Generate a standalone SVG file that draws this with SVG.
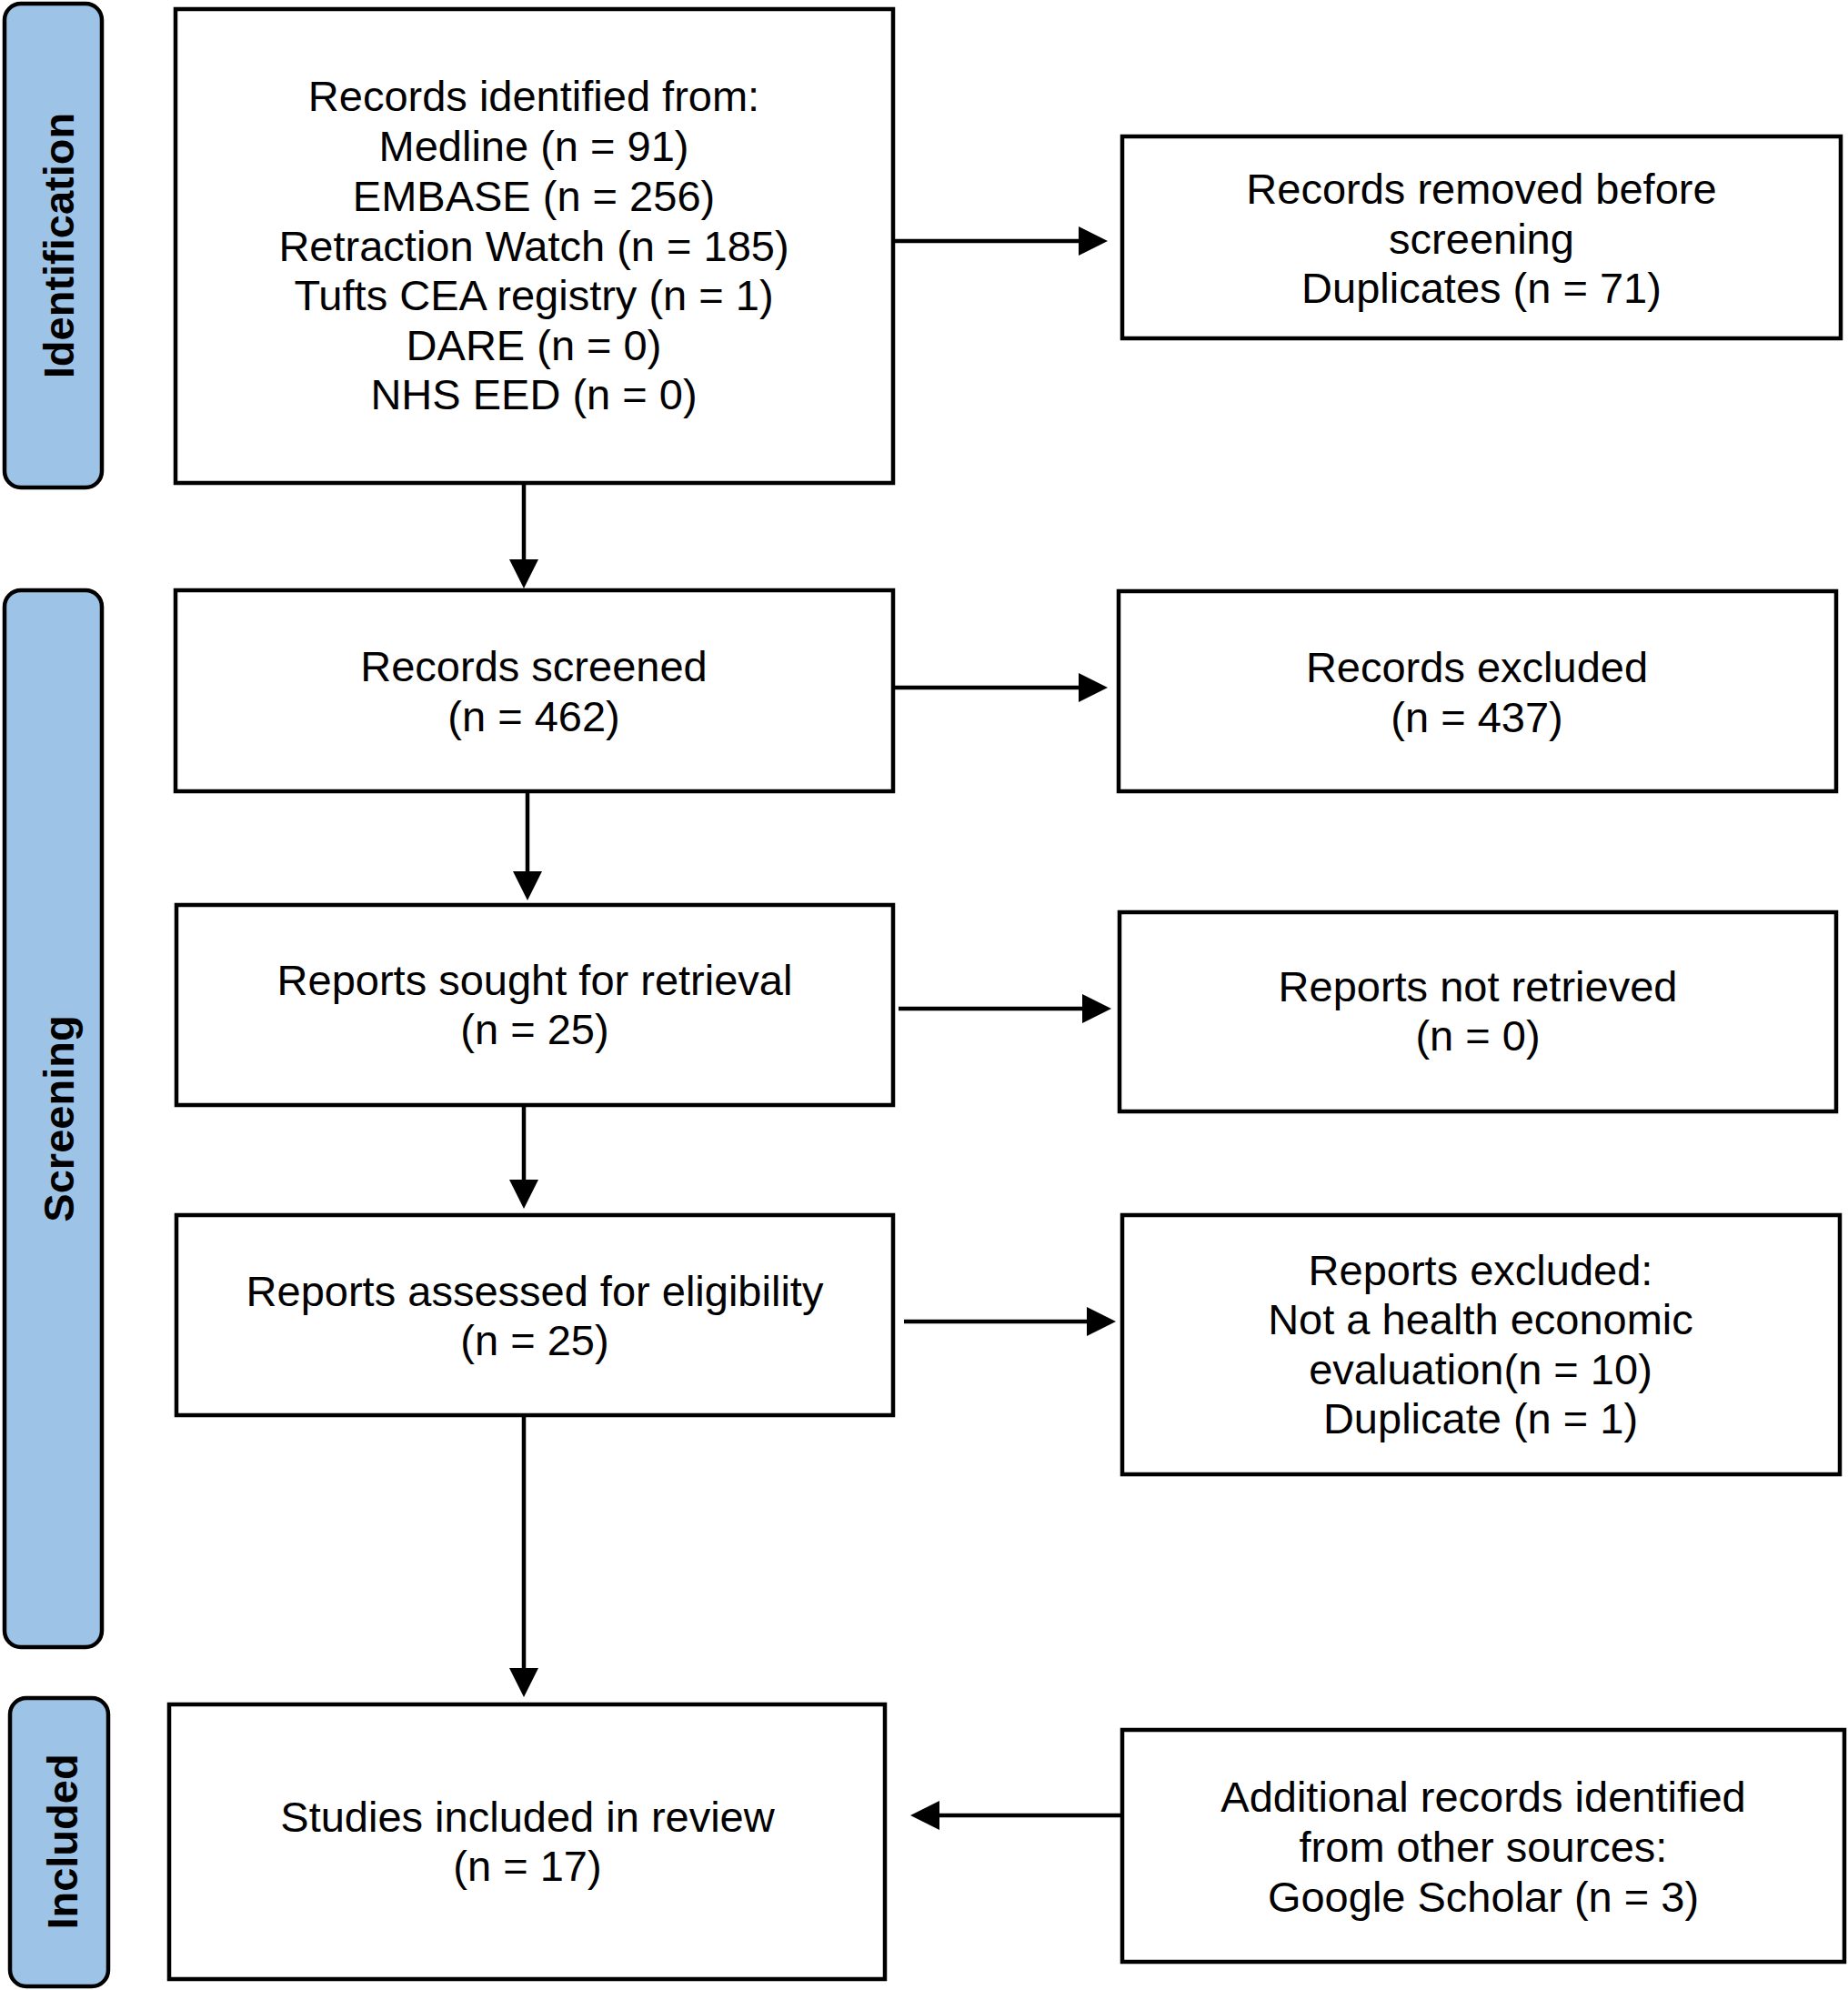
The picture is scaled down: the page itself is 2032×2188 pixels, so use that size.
<svg xmlns="http://www.w3.org/2000/svg" width="2032" height="2188" viewBox="0 0 2032 2188">
<style>
.box{fill:#fff;stroke:#000;stroke-width:4.5}
.lab{fill:#9DC3E6;stroke:#000;stroke-width:4.5}
.t{font-family:"Liberation Sans",Arial,sans-serif;font-size:47px;fill:#000;text-anchor:middle}
.lt{font-family:"Liberation Sans",Arial,sans-serif;font-size:47px;font-weight:bold;fill:#000;text-anchor:middle}
.c{fill:none;stroke:#000;stroke-width:4.5}
</style>
<defs>
<marker id="ah" markerUnits="userSpaceOnUse" markerWidth="32" markerHeight="32" refX="2" refY="16" orient="auto">
<path d="M0,0 L32,16 L0,32 z" fill="#000"/>
</marker>
</defs>
<rect width="2032" height="2188" fill="#fff"/>

<g id="label-identification">
<rect class="lab" x="5" y="4" width="107" height="532" rx="18"/>
<text class="lt" transform="translate(81,270) rotate(-90)">Identification</text>
</g>
<g id="label-screening">
<rect class="lab" x="5" y="649" width="107" height="1162" rx="18"/>
<text class="lt" transform="translate(81,1230) rotate(-90)">Screening</text>
</g>
<g id="label-included">
<rect class="lab" x="11" y="1867" width="108" height="317" rx="18"/>
<text class="lt" transform="translate(85,2025) rotate(-90)">Included</text>
</g>

<g id="records-identified">
<rect class="box" x="193" y="10" width="789" height="521"/>
<text class="t" x="587" y="122">Records identified from:</text>
<text class="t" x="587" y="177">Medline (n = 91)</text>
<text class="t" x="587" y="232">EMBASE (n = 256)</text>
<text class="t" x="587" y="287">Retraction Watch (n = 185)</text>
<text class="t" x="587" y="341">Tufts CEA registry (n = 1)</text>
<text class="t" x="587" y="396">DARE (n = 0)</text>
<text class="t" x="587" y="450">NHS EED (n = 0)</text>
</g>
<g id="records-removed">
<rect class="box" x="1234" y="150" width="790" height="222"/>
<text class="t" x="1629" y="224">Records removed before</text>
<text class="t" x="1629" y="279">screening</text>
<text class="t" x="1629" y="333">Duplicates (n = 71)</text>
</g>
<g id="records-screened">
<rect class="box" x="193" y="649" width="789" height="221"/>
<text class="t" x="587" y="749">Records screened</text>
<text class="t" x="587" y="804">(n = 462)</text>
</g>
<g id="records-excluded">
<rect class="box" x="1230" y="650" width="789" height="220"/>
<text class="t" x="1624" y="750">Records excluded</text>
<text class="t" x="1624" y="805">(n = 437)</text>
</g>
<g id="reports-sought">
<rect class="box" x="194" y="995" width="788" height="220"/>
<text class="t" x="588" y="1094">Reports sought for retrieval</text>
<text class="t" x="588" y="1148">(n = 25)</text>
</g>
<g id="reports-not-retrieved">
<rect class="box" x="1231" y="1003" width="788" height="219"/>
<text class="t" x="1625" y="1101">Reports not retrieved</text>
<text class="t" x="1625" y="1155">(n = 0)</text>
</g>
<g id="reports-assessed">
<rect class="box" x="194" y="1336" width="788" height="220"/>
<text class="t" x="588" y="1436">Reports assessed for eligibility</text>
<text class="t" x="588" y="1490">(n = 25)</text>
</g>
<g id="reports-excluded">
<rect class="box" x="1234" y="1336" width="789" height="285"/>
<text class="t" x="1628" y="1413">Reports excluded:</text>
<text class="t" x="1628" y="1467">Not a health economic</text>
<text class="t" x="1628" y="1522">evaluation(n = 10)</text>
<text class="t" x="1628" y="1576">Duplicate (n = 1)</text>
</g>
<g id="studies-included">
<rect class="box" x="186" y="1874" width="787" height="302"/>
<text class="t" x="580" y="2014">Studies included in review</text>
<text class="t" x="580" y="2068">(n = 17)</text>
</g>
<g id="additional-records">
<rect class="box" x="1234" y="1902" width="794" height="255"/>
<text class="t" x="1631" y="1992">Additional records identified</text>
<text class="t" x="1631" y="2047">from other sources:</text>
<text class="t" x="1631" y="2102">Google Scholar (n = 3)</text>
</g>

<g id="connectors">
<path class="c" d="M576,531 V617" marker-end="url(#ah)"/>
<path class="c" d="M580,872 V960" marker-end="url(#ah)"/>
<path class="c" d="M576,1217 V1299" marker-end="url(#ah)"/>
<path class="c" d="M576,1558 V1836" marker-end="url(#ah)"/>
<path class="c" d="M982,265 H1188" marker-end="url(#ah)"/>
<path class="c" d="M984,756 H1188" marker-end="url(#ah)"/>
<path class="c" d="M988,1109 H1192" marker-end="url(#ah)"/>
<path class="c" d="M994,1453 H1197" marker-end="url(#ah)"/>
<path class="c" d="M1234,1996 H1031" marker-end="url(#ah)"/>
</g>
</svg>
